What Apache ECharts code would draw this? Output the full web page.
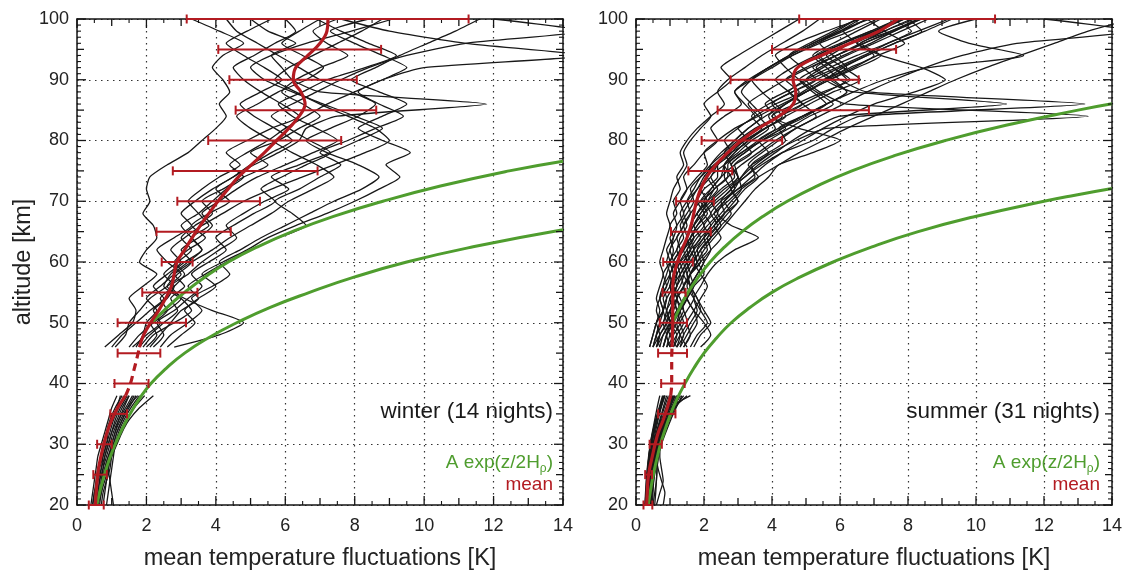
<!DOCTYPE html>
<html><head><meta charset="utf-8">
<script src="https://cdn.jsdelivr.net/npm/echarts@6/dist/echarts.min.js"></script>
<style>html,body{margin:0;padding:0;background:#fff}#c{width:1134px;height:571px}</style>
</head><body><div id="c"></div>
<script>
// ---------------- DATA ----------------
const X_TICKS = [0, 2, 4, 6, 8, 10, 12, 14];
const Y_TICKS = [20, 30, 40, 50, 60, 70, 80, 90, 100];
const ALT_UP = [46,48,50,52,54,56,58,60,62,64,66,68,70,72,74,76,78,80,82,84,86,88,90,92,94,96,98,100];
const ALT_LO = [20,22,24,26,28,30,32,34,36,38];

const WINTER_UP = [
 [0.8,1.2,1.6,1.7,1.5,1.9,2.3,1.8,2.0,2.3,2.2,1.9,2.1,2.0,2.1,2.6,3.2,3.6,4.0,4.3,4.1,4.4,4.2,3.9,4.2,4.8,4.1,3.3],
 [1.6,2.0,2.4,2.2,2.6,2.8,2.5,2.9,3.3,3.0,3.4,3.9,3.6,4.2,4.8,5.5,5.0,5.8,6.4,7.0,6.5,5.9,6.3,7.0,7.8,7.2,6.8,7.5],
 [2.0,2.3,2.1,2.6,3.0,2.7,3.2,3.6,4.1,4.6,4.3,4.8,5.4,6.1,5.6,6.4,7.3,8.1,8.8,8.0,7.1,6.2,5.4,5.0,5.6,6.6,7.9,9.1],
 [2.8,4.1,4.8,3.9,3.1,2.6,2.9,3.3,3.0,3.5,3.9,3.6,4.1,4.6,5.2,6.0,6.8,7.5,6.9,6.2,5.8,6.5,7.2,8.3,9.2,8.4,7.6,6.9],
 [1.5,1.8,2.2,2.6,2.4,2.8,3.1,2.8,3.2,3.7,3.3,3.8,4.4,4.0,4.5,5.1,5.8,6.4,6.6,7.5,11.8,7.0,6.2,5.9,5.6,6.3,5.5,5.0],
 [1.9,2.2,2.8,3.3,3.0,2.5,2.7,3.1,3.6,3.3,3.0,3.5,3.9,4.3,4.8,4.4,4.9,5.5,6.0,6.6,7.2,8.0,8.8,10.0,14.6,11.2,9.0,7.6],
 [2.2,2.5,2.3,2.8,3.2,3.6,3.3,3.8,4.3,4.0,4.5,5.1,5.7,5.3,5.9,6.6,7.3,6.7,6.1,5.6,6.2,6.9,7.6,8.4,9.5,11.2,14.6,12.0],
 [1.0,1.3,1.7,2.1,2.5,2.2,2.6,3.0,2.7,3.1,3.6,4.2,4.8,5.6,6.5,7.4,8.3,9.0,8.6,7.8,7.0,6.3,5.7,6.1,6.8,7.5,8.2,8.8],
 [2.4,2.7,3.2,3.6,3.3,3.9,4.4,4.1,4.7,5.3,6.0,6.7,7.4,8.2,8.7,8.1,7.2,6.6,7.3,8.1,8.6,7.9,7.0,6.4,5.8,5.2,4.6,4.3],
 [1.7,1.9,2.0,2.3,2.0,2.4,2.8,3.3,3.9,4.4,5.0,5.6,6.1,6.8,7.4,6.9,6.2,5.6,5.0,4.6,5.2,5.8,6.6,7.1,6.5,5.9,6.4,7.0],
 [1.1,1.4,1.5,1.8,2.1,2.6,3.0,2.6,2.3,2.8,3.3,3.0,3.4,3.9,4.5,5.0,5.6,6.2,5.7,5.1,4.7,5.3,5.9,5.4,4.8,4.3,4.9,5.6],
 [2.6,3.0,3.4,3.1,3.5,4.0,3.6,4.2,4.9,5.5,6.3,7.2,8.0,8.7,9.3,8.9,9.6,8.8,8.1,8.8,9.5,8.7,7.9,8.6,9.3,10.1,10.9,11.6],
 [1.8,2.1,2.5,2.9,2.7,3.1,2.8,3.2,3.6,3.3,3.8,3.5,3.2,3.6,4.1,4.7,4.3,4.9,5.6,6.4,5.9,5.3,4.8,4.5,5.1,5.7,6.3,6.0],
 [2.1,2.4,2.7,3.0,3.5,3.2,3.7,4.3,5.0,5.8,6.6,6.2,5.7,6.4,7.0,7.6,7.0,7.8,8.6,9.4,8.7,8.1,8.8,9.5,8.8,8.0,7.3,8.4]
];
const WINTER_LO = [
 [0.45,0.5,0.55,0.6,0.7,0.8,0.85,0.95,1.1,1.3],
 [0.55,0.6,0.65,0.75,0.8,0.9,1.0,1.1,1.25,1.45],
 [0.6,0.7,0.75,0.8,0.9,1.05,1.15,1.3,1.5,1.7],
 [0.7,0.75,0.85,0.95,1.0,1.1,1.25,1.4,1.65,1.95],
 [0.5,0.55,0.6,0.7,0.75,0.85,0.95,1.05,1.2,1.35],
 [0.85,0.9,0.95,1.0,1.05,1.1,1.2,1.35,1.55,1.8],
 [0.4,0.45,0.5,0.55,0.6,0.7,0.8,0.9,1.0,1.15],
 [0.65,0.7,0.8,0.9,0.95,1.0,1.1,1.2,1.35,1.5],
 [0.75,0.8,0.85,0.9,1.0,1.15,1.3,1.5,1.8,2.2],
 [0.5,0.6,0.65,0.7,0.8,0.9,1.0,1.15,1.3,1.5],
 [0.6,0.65,0.7,0.75,0.85,0.95,1.05,1.2,1.4,1.6],
 [1.05,1.0,0.95,0.9,0.95,1.05,1.15,1.3,1.45,1.65],
 [0.45,0.5,0.6,0.65,0.75,0.85,0.9,1.0,1.15,1.25],
 [0.55,0.65,0.7,0.8,0.9,1.0,1.1,1.25,1.45,1.75]
];

const SUMMER_UP = [
 [0.4,0.5,0.6,0.7,0.6,0.7,0.8,0.7,0.8,0.9,1.0,0.9,1.0,1.1,1.3,1.5,1.4,1.6,1.9,2.2,2.0,2.4,2.8,2.5,3.0,3.6,4.2,4.8],
 [0.6,0.7,0.6,0.8,0.9,0.8,0.9,1.0,0.9,1.1,1.2,1.1,1.3,1.5,1.4,1.7,2.0,2.4,2.2,2.6,3.1,2.9,3.4,4.0,4.6,5.3,6.0,6.6],
 [0.8,0.9,1.0,0.9,0.8,1.0,1.1,1.0,1.2,1.3,1.5,1.4,1.6,1.8,2.1,2.2,2.5,2.9,3.3,3.7,3.4,3.1,3.4,3.9,4.5,5.2,6.0,6.8],
 [1.0,1.1,1.3,1.2,1.1,1.3,1.4,1.3,1.5,1.7,1.6,1.8,2.0,2.2,2.5,2.6,2.9,3.3,3.8,4.4,4.1,3.7,3.4,3.9,4.6,5.4,6.3,7.1],
 [1.2,1.0,0.9,1.0,1.1,1.0,1.2,1.4,1.6,1.5,1.7,1.9,2.2,2.6,3.0,2.9,3.4,3.9,4.5,5.1,5.8,5.3,4.8,4.4,4.1,4.7,5.6,6.6],
 [0.5,0.6,0.8,0.9,1.0,1.2,1.1,1.3,1.2,1.4,1.3,1.5,1.7,1.6,1.9,2.3,2.8,3.3,3.0,3.6,4.3,5.0,5.7,6.5,7.2,6.6,7.5,8.4],
 [0.9,1.0,1.2,1.4,1.3,1.1,1.0,1.2,1.4,1.7,2.0,1.8,2.1,2.4,2.2,2.6,3.1,3.7,4.4,4.0,4.7,5.5,6.3,5.8,5.3,6.0,6.9,7.7],
 [1.1,1.3,1.5,1.4,1.2,1.4,1.6,1.5,1.7,2.0,2.3,2.6,2.5,2.8,3.2,3.7,4.3,5.2,5.8,6.6,13.2,6.8,6.0,5.6,5.2,5.8,6.5,7.2],
 [1.4,1.6,1.8,1.7,1.5,1.6,1.8,2.0,2.2,2.1,2.4,2.7,3.0,2.8,3.2,3.6,4.1,4.6,5.2,6.0,10.9,6.4,5.6,6.1,6.8,7.6,8.4,8.0],
 [0.7,0.8,1.0,1.1,1.0,1.2,1.3,1.5,1.4,1.6,1.9,2.2,2.0,2.3,2.7,3.1,3.6,4.1,4.7,5.4,6.1,6.8,7.6,8.5,9.6,11.2,14.6,12.0],
 [1.3,1.5,1.7,1.9,1.8,1.6,1.5,1.7,1.9,2.2,2.5,2.3,2.6,3.0,3.5,3.4,3.9,4.4,4.2,4.9,5.6,6.4,7.3,8.6,11.4,9.8,8.9,10.0],
 [0.6,0.7,0.9,1.1,1.2,1.0,1.1,1.3,1.6,1.9,1.7,1.9,2.1,1.9,2.2,2.4,2.7,3.1,3.6,4.2,4.9,5.6,6.2,5.8,5.4,6.1,6.9,7.8],
 [0.8,0.9,0.8,1.0,1.2,1.4,1.3,1.2,1.4,1.6,1.8,2.1,1.9,2.2,2.5,2.9,3.4,3.1,3.6,4.2,4.9,4.5,4.1,4.6,5.3,6.1,7.0,7.9],
 [1.6,1.8,2.1,1.9,1.7,1.5,1.6,1.9,2.2,2.5,2.3,2.6,2.9,3.2,3.6,3.3,3.7,4.2,4.7,5.3,4.9,4.5,5.0,5.7,6.5,7.4,8.3,9.2],
 [1.9,2.2,2.0,1.7,1.5,1.4,1.6,1.8,1.7,1.9,2.2,2.0,2.3,2.7,3.0,2.8,3.2,3.7,4.3,4.9,5.6,6.2,5.8,5.3,5.9,6.6,7.3,8.1],
 [0.5,0.6,0.7,0.6,0.7,0.9,0.8,1.0,1.1,1.0,1.2,1.4,1.3,1.5,1.8,2.1,2.0,2.4,2.9,3.5,3.2,2.9,3.3,3.9,4.5,5.2,5.9,6.5],
 [1.1,1.2,1.0,1.2,1.4,1.6,1.5,1.4,1.6,1.5,1.7,2.0,2.4,2.8,2.6,2.6,3.0,3.4,3.9,3.6,3.3,3.8,4.4,5.1,5.9,6.7,7.5,8.3],
 [1.3,1.4,1.6,1.8,1.7,1.9,2.1,2.4,2.9,3.6,2.8,2.4,2.6,2.9,3.1,3.4,3.9,3.6,4.2,4.9,5.6,5.2,4.8,5.4,6.1,6.9,7.6,8.3],
 [1.0,1.2,1.4,1.3,1.5,1.7,1.6,1.8,2.0,2.3,2.6,2.9,3.2,3.5,3.9,4.2,5.2,6.0,4.8,4.0,4.4,4.9,5.5,6.2,5.8,5.4,6.1,6.8],
 [1.2,1.4,1.3,1.5,1.7,1.6,1.8,2.0,1.9,2.2,2.5,2.8,2.6,3.0,3.4,3.8,4.3,4.9,5.5,6.2,7.0,8.2,9.1,8.4,7.2,6.5,7.3,8.2],
 [0.4,0.5,0.6,0.8,0.7,0.8,1.0,1.1,1.0,1.2,1.4,1.6,1.5,1.7,1.9,2.2,2.6,3.0,3.5,4.1,3.8,4.4,5.1,5.9,6.7,7.4,8.1,7.5],
 [1.5,1.3,1.2,1.3,1.2,1.4,1.6,1.8,2.1,2.0,2.2,2.5,2.8,3.1,3.0,2.8,3.2,3.7,4.3,5.0,5.6,6.2,5.7,5.2,5.9,6.7,7.6,8.4],
 [0.7,0.6,0.7,0.8,0.7,0.9,1.0,0.9,1.0,1.1,1.0,1.2,1.1,1.3,1.2,1.4,1.3,1.5,1.8,2.2,2.6,2.4,2.7,3.2,3.7,4.3,4.9,5.4],
 [0.9,1.1,1.0,0.9,1.1,1.2,1.4,1.6,1.5,1.7,1.6,1.8,2.1,2.3,2.7,2.7,3.1,3.6,4.1,3.9,4.4,5.0,5.7,6.4,7.1,7.9,7.3,6.8],
 [1.2,1.3,1.1,1.3,1.5,1.4,1.6,1.9,1.8,2.0,2.3,2.6,3.0,2.8,3.1,3.5,4.0,4.7,5.6,13.3,6.2,5.4,5.0,5.5,6.2,7.0,7.8,8.6],
 [0.6,0.8,1.0,1.2,1.1,1.0,1.2,1.1,1.3,1.5,1.4,1.6,1.9,2.3,2.1,2.4,2.8,2.6,3.0,3.5,4.1,4.8,4.4,5.0,5.7,6.3,7.0,7.8],
 [1.4,1.6,1.5,1.7,1.9,2.1,1.9,1.7,1.9,2.2,2.0,2.3,2.7,3.1,3.6,4.2,4.8,5.5,6.2,7.0,7.8,8.6,9.4,10.3,11.3,12.3,13.3,14.6],
 [0.8,0.9,1.1,1.0,1.2,1.1,1.3,1.5,1.7,1.6,1.8,2.0,1.8,2.0,2.4,2.4,2.8,3.2,3.8,4.4,5.1,5.8,6.6,6.1,5.6,6.3,7.1,7.9],
 [1.0,0.9,1.1,1.3,1.5,1.7,2.0,1.8,1.6,1.8,2.1,2.4,2.2,2.5,2.9,2.8,2.6,2.9,3.3,3.8,4.4,5.0,5.6,6.3,7.0,6.5,6.1,6.9],
 [0.5,0.7,0.9,0.8,0.9,1.1,1.2,1.1,1.3,1.2,1.4,1.3,1.5,1.8,2.0,2.3,2.7,3.2,3.7,3.4,3.9,4.6,5.3,4.9,4.5,5.1,5.8,6.5],
 [1.7,1.9,2.2,2.0,1.8,1.6,1.4,1.6,1.8,2.1,2.4,2.2,2.5,2.9,2.8,2.6,2.9,3.3,3.8,4.3,4.0,4.6,5.3,6.0,6.8,7.6,8.5,9.3]
];
const SUMMER_LO = [
 [0.3,0.32,0.35,0.4,0.45,0.5,0.6,0.7,0.8,0.9],
 [0.35,0.37,0.4,0.45,0.52,0.6,0.7,0.82,0.95,1.05],
 [0.28,0.3,0.33,0.36,0.4,0.45,0.52,0.6,0.7,0.8],
 [0.4,0.42,0.45,0.5,0.58,0.68,0.8,0.95,1.1,1.25],
 [0.32,0.35,0.38,0.42,0.48,0.55,0.65,0.78,0.9,1.0],
 [0.45,0.48,0.52,0.58,0.65,0.75,0.88,1.02,1.18,1.35],
 [0.3,0.31,0.33,0.35,0.38,0.42,0.48,0.55,0.62,0.7],
 [0.5,0.55,0.6,0.62,0.66,0.72,0.82,0.95,1.1,1.3],
 [0.36,0.38,0.42,0.48,0.55,0.63,0.72,0.85,1.0,1.15],
 [0.27,0.29,0.31,0.34,0.38,0.43,0.5,0.58,0.68,0.78],
 [0.6,0.7,0.8,0.75,0.7,0.72,0.8,0.92,1.05,1.2],
 [0.33,0.36,0.4,0.46,0.53,0.62,0.74,0.88,1.05,1.25],
 [0.38,0.4,0.43,0.47,0.52,0.58,0.66,0.76,0.88,1.0],
 [0.42,0.45,0.5,0.56,0.63,0.72,0.84,0.98,1.15,1.4],
 [0.3,0.33,0.36,0.4,0.44,0.5,0.57,0.65,0.74,0.85],
 [0.35,0.36,0.38,0.41,0.45,0.52,0.62,0.75,0.92,1.1],
 [0.48,0.5,0.52,0.56,0.62,0.7,0.8,0.93,1.08,1.25],
 [0.29,0.32,0.36,0.42,0.5,0.6,0.7,0.8,0.9,1.0],
 [0.34,0.37,0.4,0.44,0.5,0.58,0.68,0.8,0.95,1.12],
 [0.8,0.85,0.75,0.65,0.6,0.62,0.7,0.82,0.98,1.15],
 [0.31,0.33,0.35,0.38,0.42,0.47,0.54,0.63,0.73,0.85],
 [0.37,0.4,0.44,0.49,0.56,0.65,0.76,0.9,1.06,1.24],
 [0.44,0.46,0.48,0.52,0.58,0.66,0.78,0.92,1.1,1.3],
 [0.32,0.34,0.37,0.41,0.46,0.53,0.62,0.72,0.83,0.95],
 [0.26,0.28,0.3,0.33,0.37,0.42,0.49,0.58,0.7,0.82],
 [0.4,0.43,0.47,0.52,0.6,0.7,0.82,0.96,1.12,1.5],
 [0.36,0.39,0.42,0.46,0.51,0.58,0.67,0.78,0.9,1.05],
 [0.3,0.32,0.34,0.37,0.41,0.46,0.53,0.62,0.72,0.84],
 [0.55,0.58,0.6,0.62,0.65,0.7,0.78,0.9,1.04,1.2],
 [0.33,0.35,0.38,0.43,0.5,0.58,0.68,0.8,0.93,1.08],
 [0.39,0.41,0.44,0.48,0.54,0.62,0.72,0.85,1.0,1.6]
];

const MEAN_ALT = [20,22,24,26,28,30,32,34,36,38,40,42,44,46,48,50,52,54,56,58,60,62,64,66,68,70,72,74,76,78,80,82,84,86,88,90,92,94,96,98,100];
const WINTER_MEAN = [0.53,0.55,0.58,0.62,0.69,0.77,0.87,1.0,1.17,1.4,1.54,1.63,1.72,1.8,1.92,2.12,2.35,2.55,2.72,2.8,2.88,3.1,3.32,3.55,3.8,4.06,4.35,4.65,5.02,5.4,5.75,6.1,6.4,6.57,6.45,6.23,6.3,6.65,7.0,7.2,7.23];
const SUMMER_MEAN = [0.31,0.33,0.35,0.4,0.48,0.56,0.66,0.8,0.92,1.02,1.05,1.05,1.05,1.06,1.07,1.08,1.08,1.08,1.08,1.12,1.22,1.35,1.5,1.62,1.7,1.78,1.9,2.08,2.35,2.7,3.1,3.6,4.2,4.62,4.7,4.62,4.75,5.45,6.3,7.15,7.7];
const GAP_LOW = 38, GAP_HIGH = 46;   // altitude range of the dashed part of the mean

const ERR_ALT = [20,25,30,35,40,45,50,55,60,65,70,75,80,85,90,95,100];
const WINTER_ERR_LO = [0.34,0.47,0.58,0.96,1.08,1.17,1.17,1.88,2.44,2.29,2.89,2.76,3.78,4.57,4.39,4.07,3.16];
const WINTER_ERR_HI = [0.77,0.86,1.0,1.44,2.06,2.4,3.14,3.47,3.33,4.43,5.27,6.93,7.61,8.62,8.06,8.76,11.28];
const SUMMER_ERR_LO = [0.22,0.27,0.4,0.65,0.74,0.65,0.7,0.78,0.8,1.03,1.18,1.54,1.93,2.4,2.78,4.0,4.8];
const SUMMER_ERR_HI = [0.48,0.47,0.76,1.16,1.43,1.5,1.5,1.46,1.67,2.2,2.29,2.83,4.3,6.85,6.55,7.65,10.56];

const WINTER_G1_ALT = [20,22.5,25,27.5,30,32.5,35,37.5,40,42.5,45,47.5,50,52.5,55,57.5,60,62.5,65.3];
const WINTER_G1 = [0.57,0.67,0.79,0.93,1.1,1.3,1.53,1.8,2.13,2.57,3.1,3.78,4.6,5.55,6.7,7.98,9.5,11.41,14];
const WINTER_G2_ALT = [50,52.5,55,57.5,60,62.5,65,67.5,70,72.5,75,76.6];
const WINTER_G2 = [2.16,2.59,3.1,3.68,4.36,5.2,6.2,7.39,8.81,10.47,12.45,14];
const SUMMER_G1_ALT = [20,22.5,25,27.5,30,32.5,35,37.5,40,42.5,45,47.5,50,52.5,55,57.5,60,62.5,65,67.5,70,71,72.1];
const SUMMER_G1 = [0.36,0.43,0.51,0.61,0.72,0.86,1.02,1.21,1.44,1.7,2.0,2.37,2.8,3.35,4.0,4.82,5.8,6.94,8.3,9.98,12.0,12.91,14];
const SUMMER_G2_ALT = [50,52.5,55,57.5,60,62.5,65,67.5,70,72.5,75,77.5,80,82.5,85,86.05];
const SUMMER_G2 = [1.08,1.29,1.53,1.83,2.18,2.61,3.12,3.73,4.45,5.32,6.35,7.6,9.1,10.88,13.0,14];

const PANEL_LABELS = ['winter (14 nights)', 'summer (31 nights)'];
const X_NAME = 'mean temperature fluctuations [K]';
const Y_NAME = 'altitude [km]';

// ---------------- STYLE / BUILD ----------------
const F = "'Liberation Sans', Arial, Helvetica, sans-serif";
const INK = '#151515';
const LINE = '#181818';
const RED = '#b31b21';
const GREEN = '#4f9d2e';
const X_MIN = X_TICKS[0], X_MAX = X_TICKS[X_TICKS.length - 1];
const Y_MIN = Y_TICKS[0], Y_MAX = Y_TICKS[Y_TICKS.length - 1];

const chart = echarts.init(document.getElementById('c'), null, {renderer: 'canvas'});

const grids = [
  {left: 77, top: 19, width: 486, height: 486, outerBoundsMode: 'none', containLabel: false},
  {left: 636, top: 19, width: 476, height: 486, outerBoundsMode: 'none', containLabel: false}
];

const xAxes = [], yAxes = [];
const dotted = {show: true, lineStyle: {color: '#333', width: 1.2, type: [1.5, 4.5]}};
function addAxes(g) {
  const common = {gridIndex: g, type: 'value', silent: true,
    axisLine: {show: true, onZero: false, lineStyle: {color: INK, width: 1.5}},
    axisTick: {show: false}, minorTick: {show: false}};
  xAxes.push(Object.assign({}, common, {position: 'bottom', min: X_MIN, max: X_MAX, interval: 2,
    axisLabel: {show: true, fontSize: 18, color: '#222', fontFamily: F, margin: 12},
    splitLine: dotted,
    name: X_NAME, nameLocation: 'middle', nameGap: 42,
    nameTextStyle: {fontSize: 23.5, color: '#222', fontFamily: F}}));
  xAxes.push(Object.assign({}, common, {position: 'top', min: X_MIN, max: X_MAX, interval: 2,
    axisLabel: {show: false}, splitLine: {show: false}}));
  const main = Object.assign({}, common, {position: 'left', min: Y_MIN, max: Y_MAX, interval: 10,
    axisLabel: {show: true, fontSize: 18, color: '#222', fontFamily: F, margin: 8},
    splitLine: dotted});
  if (g === 0) {
    Object.assign(main, {name: Y_NAME, nameLocation: 'middle', nameGap: 39,
      nameTextStyle: {fontSize: 23.5, color: '#222', fontFamily: F}});
  }
  yAxes.push(main);
  yAxes.push(Object.assign({}, common, {position: 'right', min: Y_MIN, max: Y_MAX, interval: 10,
    axisLabel: {show: false}, splitLine: {show: false}}));
}
addAxes(0); addAxes(1);

const series = [];
// inward tick marks on all four sides (major / medium / minor), placed through the axis scales
function tickSeries(g) {
  const items = [];
  for (let v = X_MIN; v <= X_MAX + 1e-9; v += 0.5) {
    items.push([v, v % 2 === 0 ? 9 : (v % 1 === 0 ? 7 : 4), 0]);
  }
  for (let v = Y_MIN; v <= Y_MAX + 1e-9; v += 1) {
    items.push([v, v % 10 === 0 ? 9 : (v % 5 === 0 ? 7 : 4), 1]);
  }
  series.push({type: 'custom', xAxisIndex: g * 2, yAxisIndex: g * 2, z: 12, silent: true, animation: false,
    data: items, encode: {x: -1, y: -1},
    renderItem: function (params, api) {
      const cs = params.coordSys;
      const v = api.value(0), len = api.value(1), dim = api.value(2);
      const st = {stroke: INK, lineWidth: len > 5 ? 1.3 : 1.1};
      if (dim === 0) {
        const x = api.coord([v, Y_MIN])[0];
        return {type: 'group', children: [
          {type: 'line', shape: {x1: x, y1: cs.y + cs.height, x2: x, y2: cs.y + cs.height - len}, style: st},
          {type: 'line', shape: {x1: x, y1: cs.y, x2: x, y2: cs.y + len}, style: st}]};
      }
      const y = api.coord([X_MIN, v])[1];
      return {type: 'group', children: [
        {type: 'line', shape: {x1: cs.x, y1: y, x2: cs.x + len, y2: y}, style: st},
        {type: 'line', shape: {x1: cs.x + cs.width, y1: y, x2: cs.x + cs.width - len, y2: y}, style: st}]};
    }});
}
tickSeries(0); tickSeries(1);

function line(g, xs, alts, style, z, smooth) {
  series.push({type: 'line', xAxisIndex: g * 2, yAxisIndex: g * 2,
    data: xs.map((v, i) => [v, alts[i]]), symbol: 'none', showSymbol: false,
    smooth: smooth, lineStyle: style, z: z, silent: true, animation: false, clip: true});
}
function errBars(g, alts, lo, hi) {
  series.push({type: 'custom', xAxisIndex: g * 2, yAxisIndex: g * 2, z: 20, silent: true, animation: false,
    data: alts.map((a, i) => [lo[i], hi[i], a]), encode: {x: [0, 1], y: 2},
    renderItem: function (params, api) {
      const a = api.coord([api.value(0), api.value(2)]);
      const b = api.coord([api.value(1), api.value(2)]);
      const h = 4.5, st = {stroke: RED, lineWidth: 2};
      return {type: 'group', children: [
        {type: 'line', shape: {x1: a[0], y1: a[1], x2: b[0], y2: b[1]}, style: st},
        {type: 'line', shape: {x1: a[0], y1: a[1] - h, x2: a[0], y2: a[1] + h}, style: st},
        {type: 'line', shape: {x1: b[0], y1: b[1] - h, x2: b[0], y2: b[1] + h}, style: st}
      ]};
    }});
}
function meanLines(g, vals) {
  const lo = [], mid = [], up = [];
  MEAN_ALT.forEach((a, i) => {
    if (a <= GAP_LOW) lo.push(i);
    if (a >= GAP_LOW && a <= GAP_HIGH) mid.push(i);
    if (a >= GAP_HIGH) up.push(i);
  });
  const pick = idx => [idx.map(i => vals[i]), idx.map(i => MEAN_ALT[i])];
  const solid = {color: RED, width: 3.2};
  let p = pick(lo); line(g, p[0], p[1], solid, 15, 0.4);
  p = pick(mid); line(g, p[0], p[1], {color: RED, width: 3.2, type: [8, 5]}, 15, 0.4);
  p = pick(up); line(g, p[0], p[1], solid, 15, 0.4);
}

const thin = {color: LINE, width: 1.3};
WINTER_UP.forEach(v => line(0, v, ALT_UP, thin, 2, 0.2));
WINTER_LO.forEach(v => line(0, v, ALT_LO, thin, 2, 0.2));
SUMMER_UP.forEach(v => line(1, v, ALT_UP, thin, 2, 0.2));
SUMMER_LO.forEach(v => line(1, v, ALT_LO, thin, 2, 0.2));

const gst = {color: GREEN, width: 3};
line(0, WINTER_G1, WINTER_G1_ALT, gst, 5, true);
line(0, WINTER_G2, WINTER_G2_ALT, gst, 5, true);
line(1, SUMMER_G1, SUMMER_G1_ALT, gst, 5, true);
line(1, SUMMER_G2, SUMMER_G2_ALT, gst, 5, true);

meanLines(0, WINTER_MEAN);
meanLines(1, SUMMER_MEAN);
errBars(0, ERR_ALT, WINTER_ERR_LO, WINTER_ERR_HI);
errBars(1, ERR_ALT, SUMMER_ERR_LO, SUMMER_ERR_HI);

function labels(xr, title) {
  return [
    {type: 'text', x: xr, y: 412, z: 30, style: {text: title, align: 'right', verticalAlign: 'middle',
      fontSize: 22.5, fontFamily: F, fill: '#1a1a1a'}},
    {type: 'text', x: xr, y: 463, z: 30, style: {text: '{a|A exp(z/2H}{s|ρ}{a|)}', align: 'right', verticalAlign: 'middle',
      rich: {a: {fontSize: 19, fontFamily: F, fill: GREEN}, s: {fontSize: 12, fontFamily: F, fill: GREEN, padding: [11, 0, 0, 0]}}}},
    {type: 'text', x: xr, y: 485, z: 30, style: {text: 'mean', align: 'right', verticalAlign: 'middle',
      fontSize: 19, fontFamily: F, fill: RED}}
  ];
}

chart.setOption({
  animation: false,
  backgroundColor: '#fff',
  grid: grids,
  xAxis: xAxes,
  yAxis: yAxes,
  series: series,
  graphic: labels(553, PANEL_LABELS[0]).concat(labels(1100, PANEL_LABELS[1]))
});
</script></body></html>
